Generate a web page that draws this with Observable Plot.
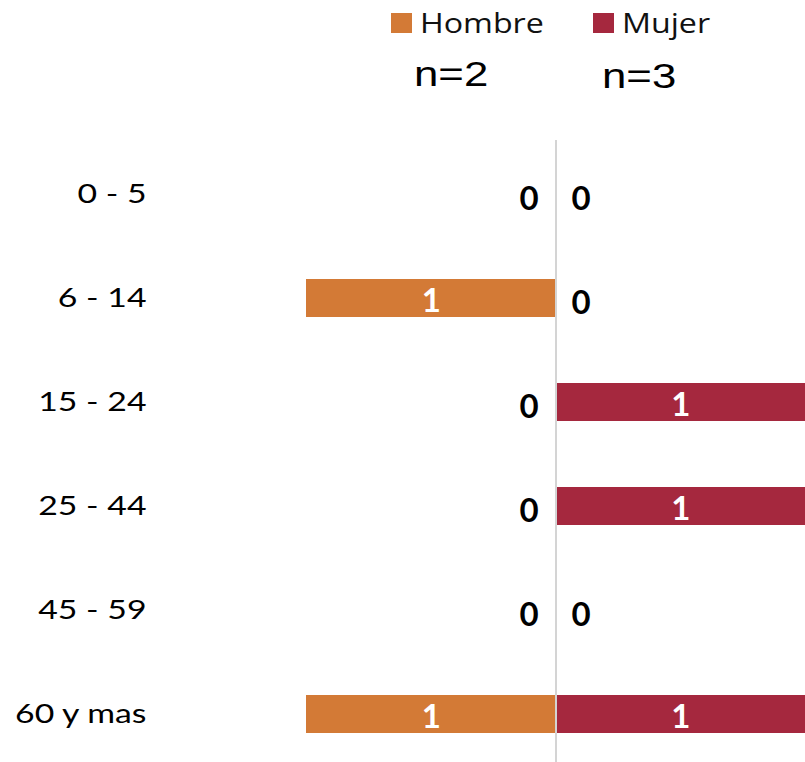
<!DOCTYPE html>
<html>
<head>
<meta charset="utf-8">
<script src="https://cdn.jsdelivr.net/npm/d3@7"></script>
<script src="https://cdn.jsdelivr.net/npm/@observablehq/plot@0.6"></script>
<style>
  html, body { margin: 0; padding: 0; background: #fff; }
  #wrap { position: relative; width: 805px; height: 762px; overflow: hidden; }
  .sw { position: absolute; width: 21px; height: 20px; }
  .lt { position: absolute; font-family: "Open Sans", sans-serif; font-size: 28px; line-height: 28px; color: #111; transform: scaleX(1.15); transform-origin: 0 0; white-space: nowrap; }
  .nt { position: absolute; font-family: "Liberation Sans", Arial, sans-serif; font-size: 35px; line-height: 35px; color: #000; transform: scaleX(1.25); transform-origin: 0 0; white-space: nowrap; }
  #chart { position: absolute; left: 0; top: 0; }
</style>
</head>
<body>
<div id="wrap">
  <div id="chart"></div>
  <div id="legend"></div>
</div>
<script>
// ---- data ----
const categories = ["0 - 5", "6 - 14", "15 - 24", "25 - 44", "45 - 59", "60 y mas"];
const hombre = [0, 1, 0, 0, 0, 1];
const mujer  = [0, 0, 1, 1, 0, 1];
const seriesNames = ["Hombre", "Mujer"];
const totals = [2, 3];
const colors = ["#D37A36", "#A5283E"];

const data = categories.flatMap((c, i) => [
  {age: c, sex: seriesNames[0], value: hombre[i], signed: -hombre[i]},
  {age: c, sex: seriesNames[1], value: mujer[i], signed: mujer[i]}
]);

const chart = Plot.plot({
  width: 805,
  height: 762,
  marginTop: 140,
  marginBottom: 0,
  marginLeft: 306,
  marginRight: 0,
  style: {fontFamily: "Lato, sans-serif", fontSize: "26px", color: "#000", background: "transparent"},
  x: {domain: [-1, 1], axis: null},
  y: {domain: categories, range: [140, 768], paddingInner: 0.637, paddingOuter: 0.3185,
      tickSize: 0, tickPadding: 160, label: null},
  color: {domain: seriesNames, range: colors},
  marks: [
    Plot.barX(data.filter(d => d.value > 0), {x: "signed", y: "age", fill: "sex"}),
    Plot.ruleX([0], {stroke: "#d4d4d4", strokeWidth: 2}),
    Plot.text(data.filter(d => d.value > 0), {
      x: d => d.signed / 2, y: "age", text: d => String(d.value),
      fill: "white", fontWeight: "bold", fontSize: 33, dy: 3, ariaLabel: "bar-labels"
    }),
    Plot.text(data.filter(d => d.value === 0 && d.sex === seriesNames[0]), {
      x: 0, y: "age", text: d => String(d.value),
      fill: "black", fontWeight: "bold", fontSize: 33, dx: -27, dy: 5, ariaLabel: "zero-labels"
    }),
    Plot.text(data.filter(d => d.value === 0 && d.sex === seriesNames[1]), {
      x: 0, y: "age", text: d => String(d.value),
      fill: "black", fontWeight: "bold", fontSize: 33, dx: 25, dy: 5, ariaLabel: "zero-labels"
    })
  ]
});

// horizontal stretch of the glyphs, as in the reference
function stretch(sel, k) {
  sel.each(function() {
    const t = this.getAttribute("transform") || "";
    const x = +(this.getAttribute("x") || 0);
    if (x) { this.removeAttribute("x"); this.setAttribute("transform", t + ` translate(${x},0) scale(${k},1)`); }
    else this.setAttribute("transform", t + ` scale(${k},1)`);
  });
}
const svg = d3.select(chart);
stretch(svg.selectAll('g[aria-label="y-axis tick label"] text'), 1.3);
stretch(svg.selectAll('g[aria-label="bar-labels"] text, g[aria-label="zero-labels"] text'), 1.15);

document.getElementById("chart").appendChild(chart);

// ---- legend ----
const legend = document.getElementById("legend");
const swLeft = [391, 593], txtLeft = [420, 622], nLeft = [414, 602], nTop = [56, 58];
seriesNames.forEach((name, i) => {
  const sw = document.createElement("div");
  sw.className = "sw"; sw.style.left = swLeft[i] + "px"; sw.style.top = "13px"; sw.style.background = colors[i];
  legend.appendChild(sw);
  const t = document.createElement("div");
  t.className = "lt"; t.style.left = txtLeft[i] + "px"; t.style.top = "8px"; t.textContent = name;
  legend.appendChild(t);
  const n = document.createElement("div");
  n.className = "nt"; n.style.left = nLeft[i] + "px"; n.style.top = nTop[i] + "px"; n.textContent = "n=" + totals[i];
  legend.appendChild(n);
});
</script>
</body>
</html>
